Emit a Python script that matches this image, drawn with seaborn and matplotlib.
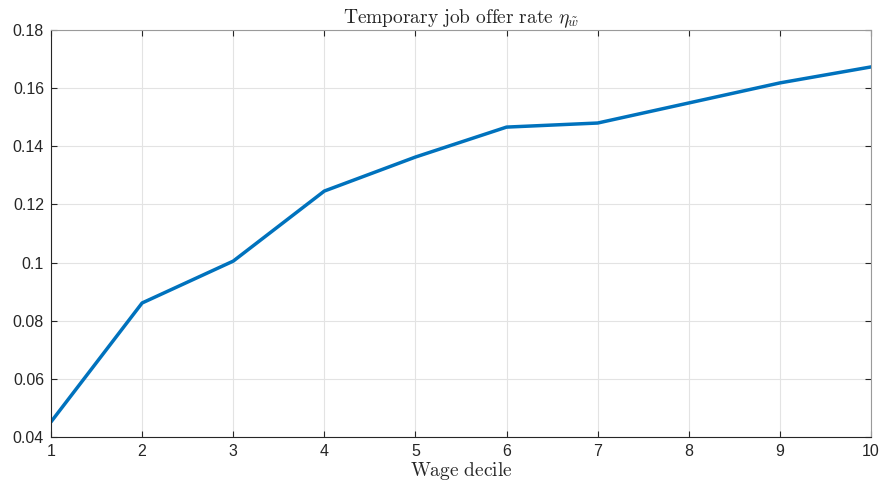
import matplotlib
matplotlib.use("Agg")
import matplotlib.pyplot as plt
import seaborn as sns
import pandas as pd

deciles = [1, 2, 3, 4, 5, 6, 7, 8, 9, 10]
offer_rate = [0.0452, 0.0861, 0.1005, 0.1246, 0.1363, 0.1466, 0.1480, 0.1549, 0.1618, 0.1673]
y_ticks = [0.04, 0.06, 0.08, 0.10, 0.12, 0.14, 0.16, 0.18]
y_tick_labels = ["0.04", "0.06", "0.08", "0.1", "0.12", "0.14", "0.16", "0.18"]

sns.set_theme(style="whitegrid")
plt.rcParams["font.family"] = ["Liberation Sans", "DejaVu Sans"]
plt.rcParams["mathtext.fontset"] = "cm"

df = pd.DataFrame({"decile": deciles, "rate": offer_rate})

fig = plt.figure(figsize=(8.85, 4.86), dpi=100)
ax = fig.add_axes([51 / 885, 49 / 486, 820 / 885, 407 / 486])
sns.lineplot(data=df, x="decile", y="rate", ax=ax, color="#0072BD", linewidth=2.5)

ax.set_xlim(1, 10)
ax.set_ylim(0.04, 0.18)
ax.set_xticks(deciles)
ax.set_yticks(y_ticks)
ax.set_yticklabels(y_tick_labels)
ax.tick_params(axis="both", which="both", direction="in", length=4, width=0.8,
               color="#262626", labelsize=11.5, labelcolor="#262626", pad=5,
               bottom=True, left=True, top=True, right=True,
               labeltop=False, labelright=False)
ax.grid(True, color="#e3e3e3", linewidth=0.8)
ax.set_facecolor("white")
for side in ["left", "bottom"]:
    ax.spines[side].set_color("#262626")
    ax.spines[side].set_linewidth(0.8)
for side in ["top", "right"]:
    ax.spines[side].set_color("#9a9a9a")
    ax.spines[side].set_linewidth(0.8)

ax.set_xlabel(r"$\mathrm{Wage\ decile}$", fontsize=14, color="#262626", labelpad=1)
ax.set_ylabel("")
ax.set_title(r"$\mathrm{Temporary\ job\ offer\ rate}\ \eta_{\tilde{w}}$", fontsize=14,
             color="#262626", pad=4)

fig.savefig("out.png", dpi=100, facecolor="white")
